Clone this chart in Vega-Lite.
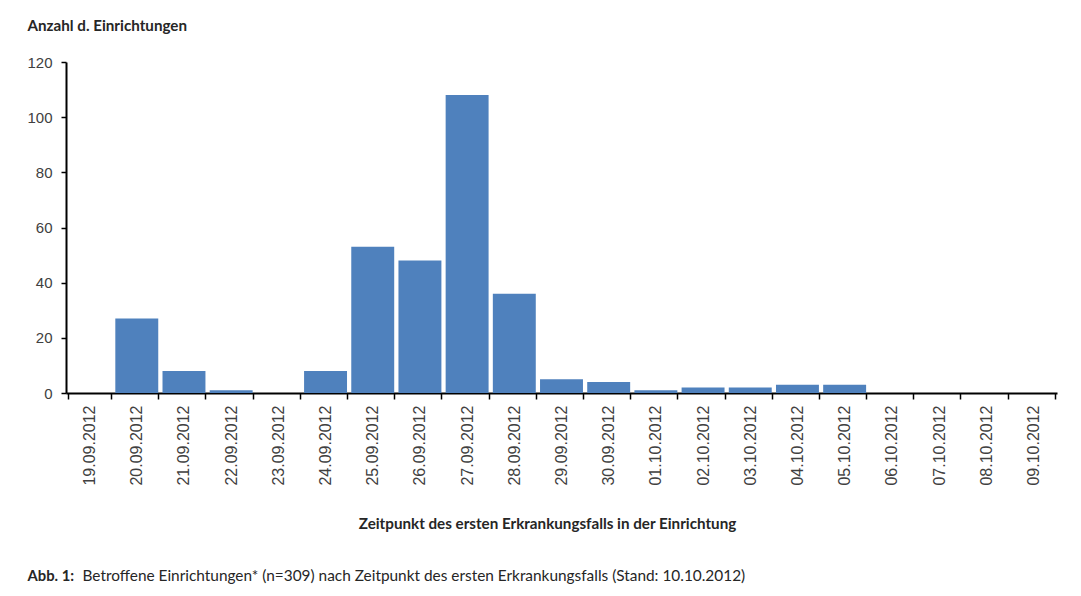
{
  "$schema": "https://vega.github.io/schema/vega-lite/v6.json",
  "autosize": {"type": "none"},
  "padding": {"left": 66, "top": 62, "right": 24, "bottom": 203},
  "width": 991,
  "height": 331,
  "background": "white",
  "config": {
    "view": {"stroke": null},
    "axis": {"grid": false, "labelFont": "Liberation Sans", "labelColor": "#404040", "titleFont": "Lato", "titleColor": "#262626", "domainColor": "black", "tickColor": "black"}
  },
  "data": {
    "values": [
      {"datum": "19.09.2012", "anzahl": 0},
      {"datum": "20.09.2012", "anzahl": 27},
      {"datum": "21.09.2012", "anzahl": 8},
      {"datum": "22.09.2012", "anzahl": 1},
      {"datum": "23.09.2012", "anzahl": 0},
      {"datum": "24.09.2012", "anzahl": 8},
      {"datum": "25.09.2012", "anzahl": 53},
      {"datum": "26.09.2012", "anzahl": 48},
      {"datum": "27.09.2012", "anzahl": 108},
      {"datum": "28.09.2012", "anzahl": 36},
      {"datum": "29.09.2012", "anzahl": 5},
      {"datum": "30.09.2012", "anzahl": 4},
      {"datum": "01.10.2012", "anzahl": 1},
      {"datum": "02.10.2012", "anzahl": 2},
      {"datum": "03.10.2012", "anzahl": 2},
      {"datum": "04.10.2012", "anzahl": 3},
      {"datum": "05.10.2012", "anzahl": 3},
      {"datum": "06.10.2012", "anzahl": 0},
      {"datum": "07.10.2012", "anzahl": 0},
      {"datum": "08.10.2012", "anzahl": 0},
      {"datum": "09.10.2012", "anzahl": 0}
    ]
  },
  "layer": [
    {
      "mark": {"type": "bar", "color": "#4f81bd"},
      "encoding": {
        "x": {
          "field": "datum", "type": "nominal", "sort": null,
          "scale": {"paddingInner": 0.09, "paddingOuter": 0.045},
          "axis": {
            "orient": "bottom",
            "labelAngle": -90, "labelAlign": "right", "labelBaseline": "middle",
            "labelFontSize": 16, "labelPadding": 6,
            "tickBand": "extent", "tickSize": 6, "tickWidth": 1.5,
            "domainWidth": 2,
            "title": "Zeitpunkt des ersten Erkrankungsfalls in der Einrichtung",
            "titleFontSize": 15.2, "titleFontWeight": "bold",
            "titleX": 481, "titleY": 135, "titleBaseline": "alphabetic", "titleAlign": "center"
          }
        },
        "y": {
          "field": "anzahl", "type": "quantitative",
          "scale": {"domain": [0, 120], "nice": false},
          "axis": {
            "values": [0, 20, 40, 60, 80, 100, 120],
            "labelFontSize": 15, "labelPadding": 9,
            "tickSize": 5, "tickWidth": 1.5, "domainWidth": 2,
            "title": "Anzahl d. Einrichtungen",
            "titleFontSize": 15.2, "titleFontWeight": "bold",
            "titleAngle": 0, "titleAlign": "left", "titleBaseline": "alphabetic",
            "titleX": -39, "titleY": -32
          }
        }
      }
    },
    {
      "mark": {"type": "bar", "opacity": 0},
      "encoding": {
        "x": {
          "field": "datum", "type": "nominal", "sort": null,
          "axis": {
            "orient": "bottom", "labels": false, "ticks": false, "domain": false,
            "title": "Betroffene Einrichtungen* (n=309) nach Zeitpunkt des ersten Erkrankungsfalls (Stand: 10.10.2012)",
            "titleFontSize": 15.4, "titleFontWeight": "normal",
            "titleX": 16, "titleY": 187, "titleAlign": "left", "titleBaseline": "alphabetic"
          }
        },
        "y": {
          "field": "anzahl", "type": "quantitative",
          "axis": {
            "orient": "left", "labels": false, "ticks": false, "domain": false,
            "title": "Abb. 1:",
            "titleFontSize": 14.8, "titleFontWeight": "bold",
            "titleAngle": 0, "titleAlign": "left", "titleBaseline": "alphabetic",
            "titleX": -39, "titleY": 518
          }
        }
      }
    }
  ],
  "resolve": {"axis": {"x": "independent", "y": "independent"}}
}
